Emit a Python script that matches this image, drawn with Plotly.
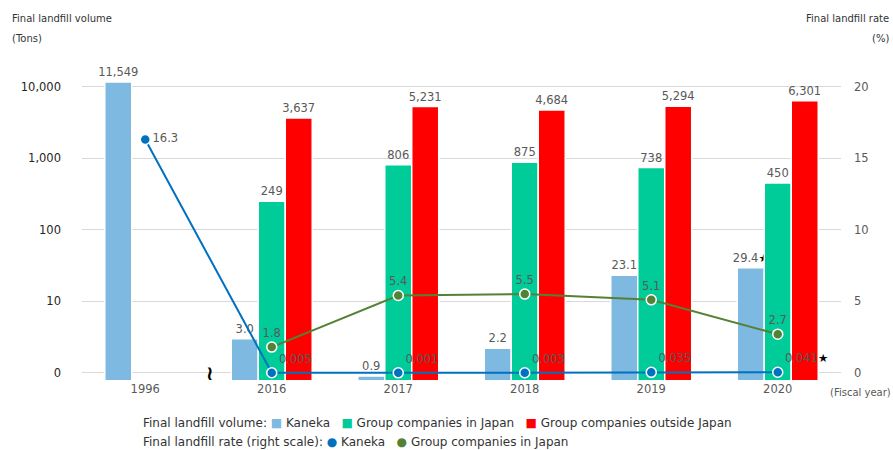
import plotly.graph_objects as go

# ---------------- data ----------------
years = ["1996", "2016", "2017", "2018", "2019", "2020"]
vol_kaneka = [11549, 3.0, 0.9, 2.2, 23.1, 29.4]
vol_japan = [None, 249, 806, 875, 738, 450]
vol_outside = [None, 3637, 5231, 4684, 5294, 6301]
rate_kaneka = [16.3, 0.005, 0.001, 0.003, 0.035, 0.041]
rate_japan = [None, 1.8, 5.4, 5.5, 5.1, 2.7]

STAR = "<span style='color:#000000'>★</span>"
lbl_vol_kaneka = ["11,549", "3.0", "0.9", "2.2", "23.1", "29.4" + STAR]
lbl_vol_japan = ["", "249", "806", "875", "738", "450"]
lbl_vol_outside = ["", "3,637", "5,231", "4,684", "5,294", "6,301"]
lbl_rate_kaneka = ["16.3", "0.005", "0.001", "0.003", "0.035", "0.041" + STAR]
lbl_rate_japan = ["", "1.8", "5.4", "5.5", "5.1", "2.7"]

left_tickvals = [1, 10, 100, 1000, 10000]
left_ticktext = ["0", "10", "100", "1,000", "10,000"]
right_tickvals = [0, 5, 10, 15, 20]

# ---------------- style ----------------
C_KANEKA = "#7DB9E0"
C_JAPAN = "#00CC99"
C_OUT = "#FF0000"
C_LK = "#0070C0"
C_LJ = "#548235"
GRAY = "#595959"
FONT = "DejaVu Sans"

W, H = 893, 450
ML, MR, MT, MB = 82, 52, 65, 70
PW, PH = W - ML - MR, H - MT - MB
LOG_LO, LOG_HI = -0.1, 4.3


def px(x):
    return (x - ML) / PW


def py(y):
    return (H - MB - y) / PH


fig = go.Figure()

bar_common = dict(textposition="outside", cliponaxis=False, constraintext="none",
                  textfont=dict(family=FONT, size=11.5, color=GRAY),
                  showlegend=False)
fig.add_trace(go.Bar(x=years, y=vol_kaneka, text=lbl_vol_kaneka, name="Kaneka",
                     marker=dict(color=C_KANEKA, line=dict(color="white", width=1.5)),
                     **bar_common))
fig.add_trace(go.Bar(x=years, y=vol_japan, text=lbl_vol_japan, name="Group companies in Japan",
                     marker=dict(color=C_JAPAN, line=dict(color="white", width=1.5)),
                     **bar_common))
fig.add_trace(go.Bar(x=years, y=vol_outside, text=lbl_vol_outside, name="Group companies outside Japan",
                     marker=dict(color=C_OUT, line=dict(color="white", width=1.5)),
                     **bar_common))

fig.add_trace(go.Scatter(x=years, y=rate_kaneka, yaxis="y2", mode="lines+markers+text",
                         text=lbl_rate_kaneka,
                         textposition=["middle right"] + ["top right"] * 5,
                         textfont=dict(family=FONT, size=11.5, color=GRAY),
                         line=dict(color=C_LK, width=2),
                         marker=dict(size=10, color=C_LK, line=dict(color="white", width=1.5)),
                         name="Kaneka rate", showlegend=False, cliponaxis=False))
fig.add_trace(go.Scatter(x=years, y=rate_japan, yaxis="y2", mode="lines+markers+text",
                         text=lbl_rate_japan, textposition="top center",
                         textfont=dict(family=FONT, size=11.5, color=GRAY),
                         line=dict(color=C_LJ, width=2),
                         marker=dict(size=10, color=C_LJ, line=dict(color="white", width=1.5)),
                         name="Group companies in Japan rate", showlegend=False, cliponaxis=False))

NB = "\u00a0"


def sym(ch, col):
    return "<span style='color:%s'>%s</span>" % (col, ch)


row1 = ("Final landfill volume:" + NB + sym("■", C_KANEKA) + NB + "Kaneka" + NB * 3 +
        sym("■", C_JAPAN) + NB + "Group companies in Japan" + NB * 3 +
        sym("■", C_OUT) + NB + "Group companies outside Japan")
row2 = ("Final landfill rate (right scale):" + NB + sym("●", C_LK) + NB + "Kaneka" + NB * 3 +
        sym("●", C_LJ) + NB + "Group companies in Japan")

annotations = [
    dict(x=px(10), y=py(18), text="Final landfill volume", xanchor="left", size=10),
    dict(x=px(10), y=py(38), text="(Tons)", xanchor="left", size=10),
    dict(x=px(891), y=py(18), text="Final landfill rate", xanchor="right", size=10),
    dict(x=px(891), y=py(38), text="(%)", xanchor="right", size=10),
    dict(x=px(893), y=py(392), text="(Fiscal year)", xanchor="right", size=10, color=GRAY),
    dict(x=px(141), y=py(423), text=row1, xanchor="left", size=12),
    dict(x=px(141), y=py(442), text=row2, xanchor="left", size=12),
]
ann_objs = []
for a in annotations:
    ann_objs.append(dict(x=a["x"], y=a["y"], xref="paper", yref="paper", text=a["text"],
                         showarrow=False, xanchor=a["xanchor"], yanchor="middle",
                         font=dict(family=FONT, size=a.get("size", 11), color=a.get("color", "#333333"))))
# axis break mark
ann_objs.append(dict(x=px(210), y=py(373), xref="paper", yref="paper", text="<b>≀</b>",
                     showarrow=False, xanchor="center", yanchor="middle",
                     font=dict(family=FONT, size=20, color="#000000")))

fig.update_layout(
    width=W, height=H,
    margin=dict(l=ML, r=MR, t=MT, b=MB, pad=0),
    paper_bgcolor="white", plot_bgcolor="white",
    barmode="group", bargap=0.36, bargroupgap=0.0,
    font=dict(family=FONT, size=11, color=GRAY),
    xaxis=dict(type="category", showgrid=False, showline=False, zeroline=False, ticks="",
               tickfont=dict(family=FONT, size=11.5, color=GRAY), ticklabelstandoff=0),
    yaxis=dict(type="log", range=[LOG_LO, LOG_HI], tickvals=left_tickvals, ticktext=left_ticktext,
               showgrid=True, gridcolor="#D9D9D9", gridwidth=1, zeroline=False, showline=False,
               ticks="", ticklabelstandoff=20,
               tickfont=dict(family=FONT, size=11.5, color="#262626")),
    yaxis2=dict(overlaying="y", side="right", range=[5 * LOG_LO, 5 * LOG_HI], tickvals=right_tickvals,
                showgrid=False, zeroline=False, showline=False, ticks="", ticklabelstandoff=12,
                tickfont=dict(family=FONT, size=11.5, color=GRAY)),
    annotations=ann_objs,
    showlegend=False,
)

fig.write_html("out.html")
